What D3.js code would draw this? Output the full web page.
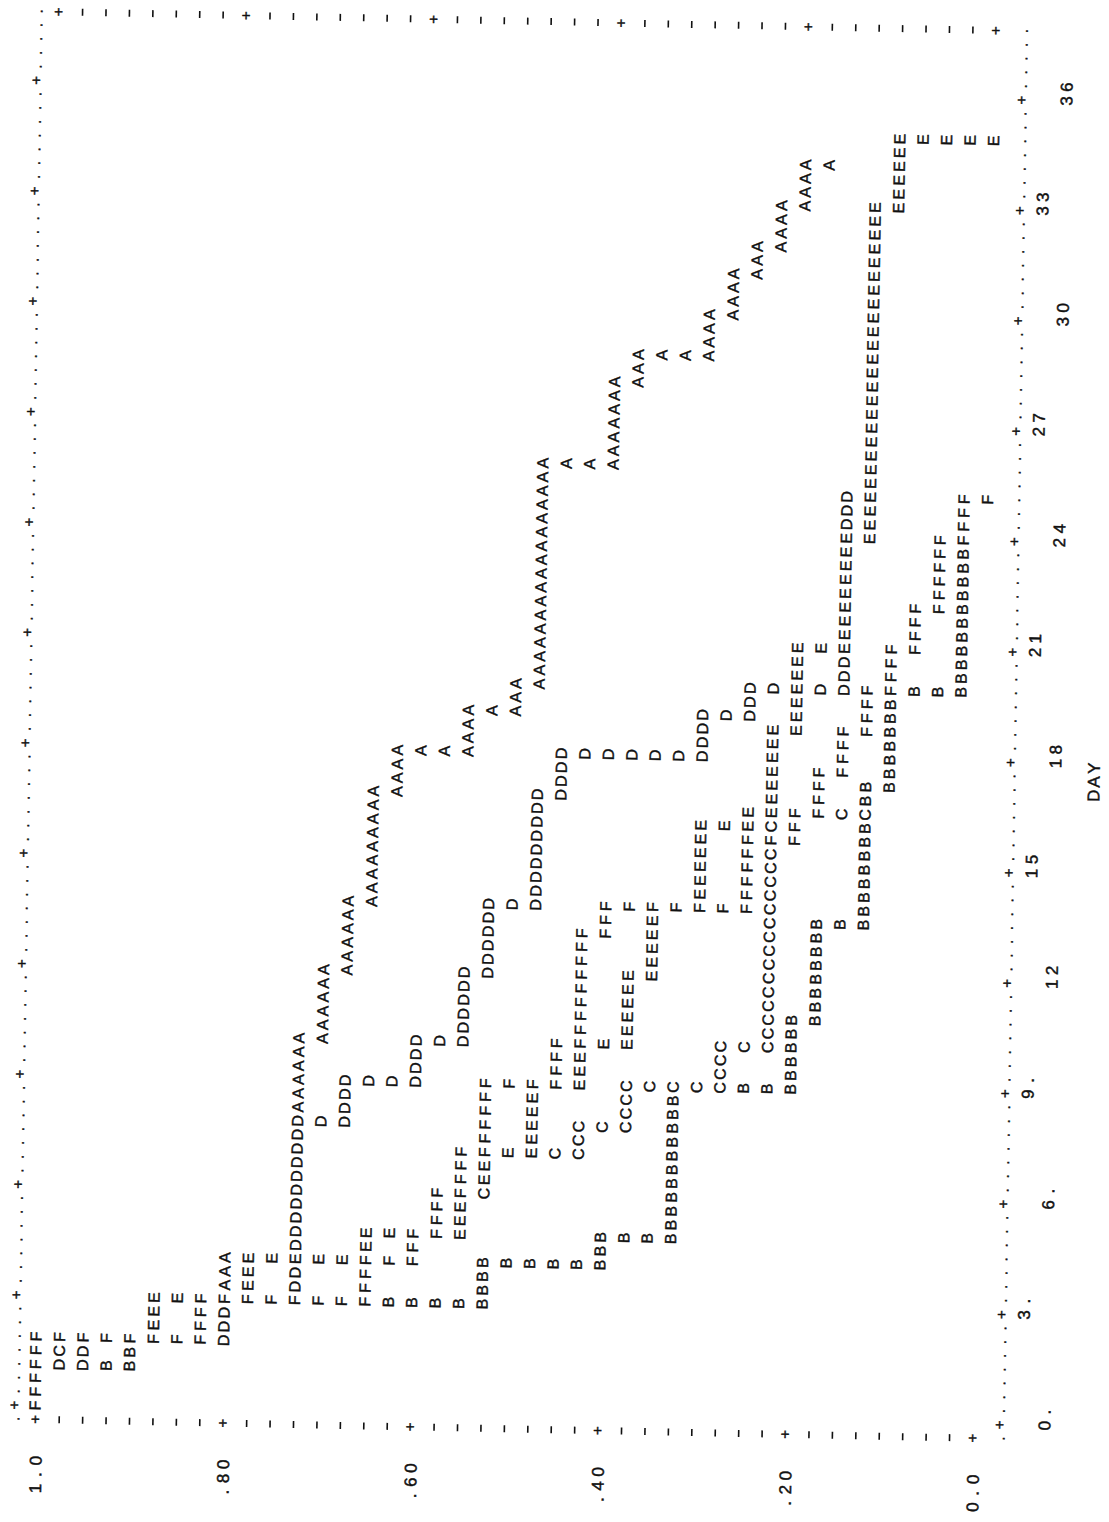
<!DOCTYPE html>
<html>
<head>
<meta charset="utf-8">
<script src="https://cdn.jsdelivr.net/npm/d3@7"></script>
<style>
  body { margin: 0; background: #fff; }
  text { font-family: "Liberation Sans", Arial, sans-serif; fill: #111; stroke: #111; stroke-width: 0.45px; }
</style>
</head>
<body>
<div class="card"></div>
<script>
/* global d3*/

// axis ticks and labels
var probTicks = [1.0, 0.8, 0.6, 0.4, 0.2, 0.0];
var probLabels = ["1.0", ".80", ".60", ".40", ".20", "0.0"];
var dayTicks = [0, 3, 6, 9, 12, 15, 18, 21, 24, 27, 30, 33, 36];
var dayLabels = ["0.", "3.", "6.", "9.", "12", "15", "18", "21", "24", "27", "30", "33", "36"];

// step curves: [day, value] - the value holds until the next day, then drops
var seriesA = [[0, 1.0], [1.875, 0.8], [4.125, 0.725], [10.125, 0.7], [12.0, 0.675],
  [13.875, 0.65], [16.875, 0.625], [18.0, 0.55], [19.125, 0.5], [19.875, 0.475],
  [25.875, 0.4], [28.125, 0.375], [28.875, 0.3], [30.0, 0.275], [31.125, 0.25],
  [31.875, 0.225], [33.0, 0.2], [34.125, 0.175], [34.125, 0.175]];
var seriesB = [[0, 1.0], [1.125, 0.9], [1.875, 0.825], [3.0, 0.525], [4.125, 0.4],
  [4.875, 0.325], [9.0, 0.2], [10.875, 0.175], [13.5, 0.125], [17.25, 0.1],
  [19.875, 0.025], [23.625, 0.025]];
var seriesC = [[0, 1.0], [1.5, 0.975], [1.875, 0.875], [3.0, 0.775], [4.125, 0.65],
  [4.875, 0.575], [6.0, 0.525], [7.125, 0.425], [7.875, 0.375], [9.0, 0.275],
  [10.125, 0.225], [16.5, 0.125], [16.5, 0.125]];
var seriesD = [[0, 1.0], [1.125, 0.95], [1.875, 0.8], [3.0, 0.725], [7.875, 0.675],
  [9.0, 0.6], [10.125, 0.55], [12.0, 0.525], [13.875, 0.475], [16.875, 0.45],
  [18.0, 0.3], [19.125, 0.25], [19.875, 0.15], [25.125, 0.15]];
var seriesE = [[0, 1.0], [1.875, 0.875], [3.0, 0.775], [4.125, 0.65], [4.875, 0.55],
  [6.375, 0.525], [7.125, 0.475], [9.0, 0.425], [10.125, 0.375], [12.0, 0.35],
  [13.875, 0.3], [16.125, 0.25], [16.5, 0.225], [18.75, 0.2], [21.0, 0.15],
  [24.0, 0.125], [33.0, 0.1], [34.875, 0.0], [34.875, 0.0]];
var seriesF = [[0, 1.0], [1.875, 0.825], [3.0, 0.65], [4.125, 0.6], [4.875, 0.575],
  [6.0, 0.55], [7.125, 0.525], [9.0, 0.45], [10.125, 0.425], [13.125, 0.4],
  [13.875, 0.25], [15.75, 0.2], [16.5, 0.175], [17.625, 0.15], [18.75, 0.125],
  [19.875, 0.1], [21.0, 0.075], [22.125, 0.05], [24.0, 0.025], [25.125, 0.0],
  [25.125, 0.0]];

// later symbols overprint earlier ones
var series = [
  {name: "A", pts: seriesA},
  {name: "B", pts: seriesB},
  {name: "C", pts: seriesC},
  {name: "D", pts: seriesD},
  {name: "E", pts: seriesE},
  {name: "F", pts: seriesF}
];

var width = 1109,
    height = 1522,
    probStep = 0.025,   // one printer line
    dayStep = 0.375;    // one character cell

var svg = d3.select(".card").append("svg")
    .attr("width", width)
    .attr("height", height);

// the scan is a little skewed
var g = svg.append("g")
    .attr("transform", "matrix(1,0.02,-0.0166,1,23.33,-0.66)");

var x = d3.scaleLinear().domain([1, 0]).range([35, 35 + 40 * 23.43]);
var y = d3.scaleLinear().domain([0, 36]).range([1405.5, 1405.5 - 96 * 13.8]);

var glyph = function(ch, px, py, size) {
    g.append("text")
        .attr("transform", "translate(" + px + "," + py + ") rotate(-90)")
        .attr("text-anchor", "middle")
        .attr("dominant-baseline", "central")
        .style("font-size", (size || 16) + "px")
        .text(ch);
};

// borders: dotted, + every 3 days
var leftProb = 1 + 0.9 * probStep,
    rightProb = 0 - 1.15 * probStep;
for (var p = -1; p <= 101; p++) {
    var d = p * dayStep;
    var isTick = p >= 0 && p % 8 == 0 && p <= 96;
    glyph(isTick ? "+" : ".", x(leftProb), y(d), 15);
    glyph(isTick ? "+" : ".", x(rightProb), y(d), 15);
}

// value axis rows (bottom and top of the page)
[-dayStep, 101 * dayStep].forEach(function(dv) {
    for (var L = 0; L <= 40; L++) {
        var v = 1 - L * probStep;
        if (L % 8 == 0) {
            glyph("+", x(v), y(dv), 15);
        } else {
            g.append("line")
                .attr("x1", x(v) + 1).attr("x2", x(v) + 1)
                .attr("y1", y(dv) - 3.5).attr("y2", y(dv) + 3.5)
                .attr("stroke", "#111")
                .attr("stroke-width", 1.6);
        }
    }
});

// value labels, right justified before the axis
probTicks.forEach(function(v, i) {
    var s = probLabels[i];
    for (var k = 0; k < s.length; k++) {
        var pos = -4 - (s.length - 1 - k);
        glyph(s[k], x(v) + 2, y(pos * dayStep), 17);
    }
});

// day labels, staggered on two lines
dayTicks.forEach(function(dv, i) {
    var s = dayLabels[i];
    var lineProb = 1 - (i % 2 == 0 ? 43.1 : 42.15) * probStep;
    for (var k = 0; k < s.length; k++) {
        glyph(s[k], x(lineProb), y(dv + k * dayStep), 17);
    }
});

"DAY".split("").forEach(function(ch, k) {
    glyph(ch, x(1 - 44.75 * probStep), y((45.7 + k) * dayStep), 17);
});

// the curves: fill a character grid, later series win a shared cell
var cell = function(dv) { return Math.round(dv / dayStep); };
var line = function(v) { return Math.round((1 - v) / probStep); };
var grid = new Map();
var put = function(l, q, ch) { grid.set(l + "," + q, {l: l, q: q, ch: ch}); };

series.forEach(function(s) {
    var pts = s.pts;
    for (var i = 0; i < pts.length - 1; i++) {
        var p0 = cell(pts[i][0]), p1 = cell(pts[i + 1][0]);
        var l0 = line(pts[i][1]), l1 = line(pts[i + 1][1]);
        for (var q = p0; q <= p1; q++) put(l0, q, s.name);
        for (var m = l0 + 1; m <= l1; m++) put(m, p1, s.name);
    }
});

grid.forEach(function(c) {
    glyph(c.ch, x(1 - c.l * probStep), y(c.q * dayStep), 16);
});
</script>
</body>
</html>
